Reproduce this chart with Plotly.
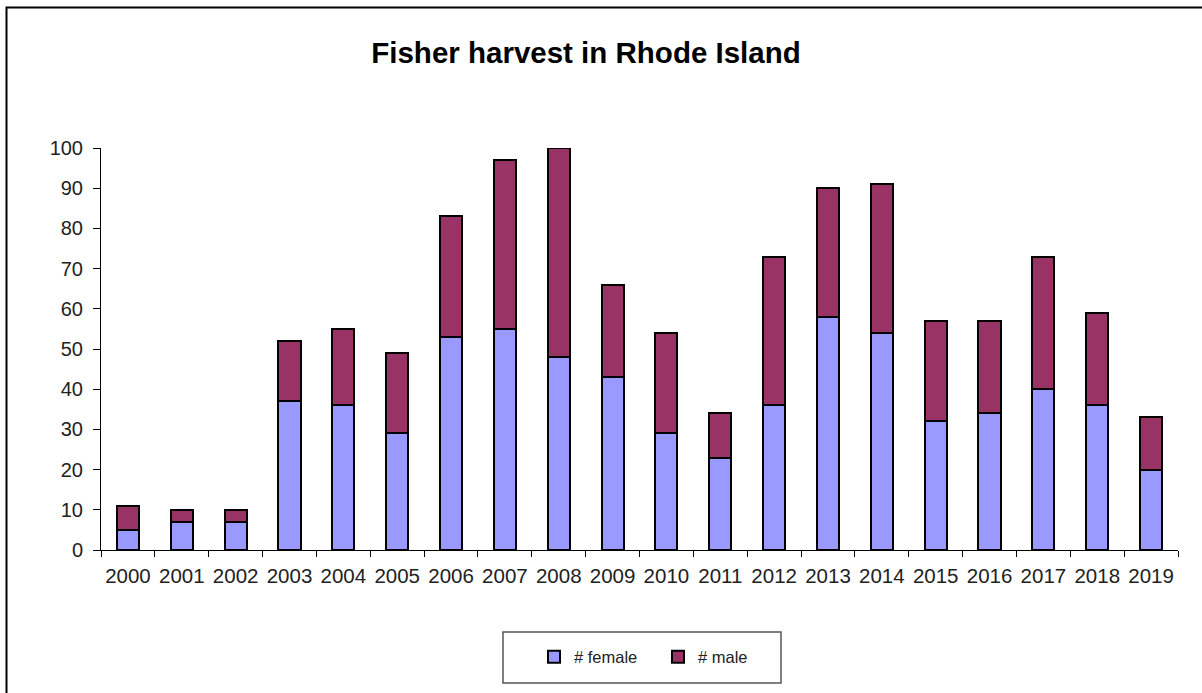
import plotly.graph_objects as go

years = [str(y) for y in range(2000, 2020)]
female = [5, 7, 7, 37, 36, 29, 53, 55, 48, 43, 29, 23, 36, 58, 54, 32, 34, 40, 36, 20]
male = [6, 3, 3, 15, 19, 20, 30, 42, 52, 23, 25, 11, 37, 32, 37, 25, 23, 33, 23, 13]

W, H = 1202, 693
L, R, T, B = 101, 24, 148, 143
pw, ph = W - L - R, H - T - B

def px(x):
    return (x - L) / pw

def py(y):
    return (H - B - y) / ph

font = "Liberation Sans, Arial, sans-serif"

fig = go.Figure()
fig.add_trace(go.Bar(x=years, y=female, name="# female",
                     marker=dict(color="#9999FF", line=dict(color="black", width=2))))
fig.add_trace(go.Bar(x=years, y=male, name="# male",
                     marker=dict(color="#993366", line=dict(color="black", width=2))))

fig.update_layout(
    width=W, height=H,
    barmode="stack", bargap=0.59,
    paper_bgcolor="white", plot_bgcolor="white",
    margin=dict(l=L, r=R, t=T, b=B, autoexpand=False),
    font=dict(family=font, color="#222222"),
    title=dict(text="<b>Fisher harvest in Rhode Island</b>", x=586 / W, xanchor="center",
               y=1 - 53 / H, yanchor="middle", font=dict(size=29.5, color="black", family=font)),
    showlegend=True,
    legend=dict(orientation="h", traceorder="normal", x=px(534), xanchor="left",
                y=py(657), yanchor="middle",
                bgcolor="rgba(0,0,0,0)", borderwidth=0, entrywidth=79,
                font=dict(size=16.5, color="#222222", family=font)),
    xaxis=dict(type="category", showline=True, linecolor="black", linewidth=1,
               ticks="outside", ticklen=6, tickcolor="black", tickson="boundaries",
               tickangle=0, ticklabelstandoff=7,
               tickfont=dict(size=20.5, color="#222222"), showgrid=False, fixedrange=True),
    yaxis=dict(range=[0, 100], tick0=0, dtick=10, showline=True, linecolor="black", linewidth=1,
               ticks="outside", ticklen=7, tickcolor="black", ticklabelstandoff=6,
               tickfont=dict(size=20, color="#222222"), showgrid=False, zeroline=False),
)

# outer chart frame
fig.add_shape(type="rect", xref="paper", yref="paper",
              x0=px(6.5), x1=px(1215), y0=py(710), y1=py(7.5),
              line=dict(color="black", width=2), layer="below")
# legend frame
fig.add_shape(type="rect", xref="paper", yref="paper",
              x0=px(503), x1=px(781), y0=py(683), y1=py(632),
              line=dict(color="#555555", width=1.5), layer="below")

fig.write_html("out.html")
